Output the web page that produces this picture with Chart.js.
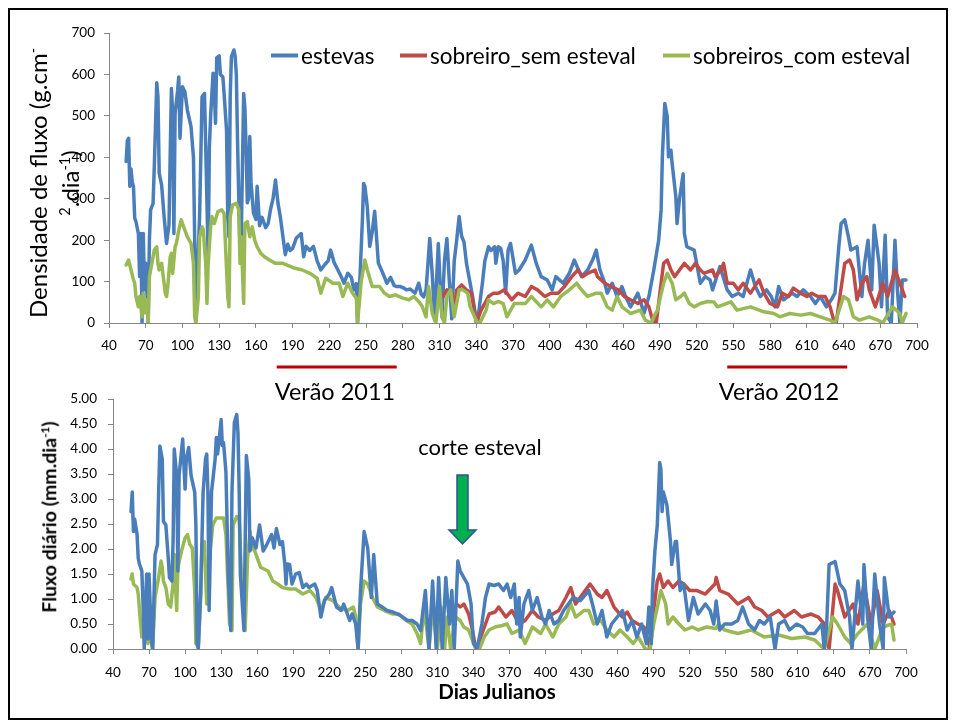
<!DOCTYPE html>
<html lang="pt">
<head>
  <meta charset="UTF-8" />
  <title>Fluxo de seiva - estevas e sobreiros</title>
  <script src="https://cdn.jsdelivr.net/npm/chart.js"></script>
  <style>
    body { margin: 0; width: 955px; height: 723px; background: #fff; position: relative; overflow: hidden;
           font-family: Lato, "Open Sans", sans-serif; color: #000; }
    .frame { position: absolute; left: 8px; top: 8px; width: 936px; height: 708px; border: 2px solid #000; }
    #topWrap { position: absolute; left: 0; top: 0; }
    #botWrap { position: absolute; left: 0; top: 380px; }
    .txt { position: absolute; white-space: nowrap; line-height: 1; }
    .rot { transform: translate(-50%, -50%) rotate(-90deg); text-align: center; }
    .leg { position: absolute; top: 55px; transform: translateY(-50%); display: flex; align-items: center; font-size: 22.5px; white-space: nowrap; }
    .leg i { display: inline-block; width: 27px; height: 4px; margin-right: 3px; }
    sup { font-size: 0.6em; line-height: 0; }
  </style>
</head>
<body>
  <div class="frame"></div>

  <div id="topWrap"><canvas id="densChart" width="955" height="372"></canvas></div>
  <div id="botWrap"><canvas id="fluxChart" width="955" height="320"></canvas></div>

  <!-- legenda -->
  <div class="leg" style="left:271px"><i style="background:#4A7EBB"></i>estevas</div>
  <div class="leg" style="left:400px"><i style="background:#BE4B48"></i>sobreiro_sem esteval</div>
  <div class="leg" style="left:663px"><i style="background:#98B954"></i>sobreiros_com esteval</div>

  <!-- titulos dos eixos -->
  <div class="txt rot" style="left:54px; top:183px; font-size:24px; line-height:32px;">
    Densidade de fluxo (g.cm<sup>-</sup><br><sup>2</sup>.dia<sup>-1</sup>)
  </div>
  <div class="txt rot" style="left:49px; top:517px; font-size:19.5px; font-weight:bold;">Fluxo diário (mm.dia<sup>-1</sup>)</div>
  <div class="txt" style="left:497px; top:691px; transform:translate(-50%,-50%); font-size:20.5px; font-weight:bold;">Dias Julianos</div>

  <!-- anotacoes -->
  <div class="txt" style="left:335px; top:392px; transform:translate(-50%,-50%); font-size:23.5px;">Verão 2011</div>
  <div class="txt" style="left:779px; top:392px; transform:translate(-50%,-50%); font-size:23.5px;">Verão 2012</div>
  <div class="txt" style="left:480px; top:447px; transform:translate(-50%,-50%); font-size:22px;">corte esteval</div>
  <svg style="position:absolute; left:440px; top:470px;" width="44" height="80">
    <polygon points="17,5 28,5 28,60 36,60 22.5,74 9,60 17,60" fill="#00B050" stroke="#2F528F" stroke-width="1.5" />
  </svg>

  <script>
    // ---- dados (dia juliano, valor) ----
    const diasTicks = [40, 70, 100, 130, 160, 190, 220, 250, 280, 310, 340, 370, 400, 430, 460, 490, 520, 550, 580, 610, 640, 670, 700];
    const densidadeTicks = [0, 100, 200, 300, 400, 500, 600, 700];
    const fluxoTicks = [0, 0.5, 1, 1.5, 2, 2.5, 3, 3.5, 4, 4.5, 5];
    const veraoDias = [[177, 275], [545, 643]];

    const estevasDensidade = [
      [54,390],[55,440],[56,446],[57,330],[58,372],[59,340],[60,329],[61,253],[62,245],[64,216],[65,112],[66,216],[67,0],[68,216],[69,80],[70,144],[72,0],[73,200],[74,273],[76,289],[77,377],[79,580],[80,546],[81,361],[83,333],[85,257],[87,192],[89,236],[90,409],[91,566],[92,506],[93,216],[94,506],[96,560],[97,594],[98,446],[100,570],[102,558],[104,514],[107,474],[109,400],[110,200],[111,5],[112,100],[114,257],[116,546],[118,554],[119,425],[121,160],[122,425],[123,498],[125,603],[126,562],[127,482],[128,640],[130,645],[131,600],[133,594],[134,554],[136,466],[137,257],[138,208],[139,546],[140,643],[142,659],[143,645],[144,600],[145,440],[146,300],[147,185],[148,200],[150,554],[151,520],[152,420],[153,290],[154,300],[155,450],[156,340],[158,265],[160,250],[161,330],[163,235],[165,255],[168,230],[170,240],[172,275],[174,300],[176,345],[178,290],[180,255],[182,210],[184,165],[186,190],[188,175],[190,180],[193,205],[197,216],[199,160],[201,185],[204,175],[207,185],[210,150],[213,128],[216,140],[219,150],[221,176],[224,145],[227,128],[230,110],[232,96],[235,120],[238,110],[240,80],[242,95],[243,0],[245,110],[247,250],[248,337],[249,330],[251,280],[253,185],[255,220],[257,270],[258,230],[260,145],[263,125],[267,96],[270,110],[273,90],[275,88],[278,88],[281,84],[283,80],[286,82],[290,72],[293,96],[295,70],[297,63],[299,80],[302,204],[304,120],[306,7],[309,192],[311,60],[312,15],[314,150],[316,204],[318,100],[320,10],[322,150],[324,200],[326,257],[328,210],[330,195],[332,144],[334,112],[337,64],[340,7],[341,0],[343,50],[345,96],[347,150],[350,184],[352,175],[355,184],[356,144],[358,184],[360,180],[362,150],[364,72],[366,176],[368,192],[372,120],[375,128],[380,152],[385,188],[389,144],[393,112],[398,104],[402,80],[405,112],[411,96],[416,120],[420,152],[426,112],[431,128],[435,152],[438,176],[441,128],[445,96],[447,72],[451,96],[455,64],[459,88],[462,64],[466,39],[472,72],[477,24],[481,64],[485,128],[489,200],[491,273],[492,401],[494,530],[496,498],[497,401],[499,417],[500,385],[503,305],[504,240],[506,300],[509,360],[510,216],[512,184],[518,176],[520,144],[523,96],[527,112],[531,104],[533,80],[539,136],[545,80],[549,64],[554,72],[558,64],[564,128],[568,88],[572,64],[577,80],[581,64],[584,39],[587,88],[591,56],[598,72],[602,64],[607,80],[613,64],[617,47],[621,64],[626,39],[630,56],[633,72],[636,180],[638,240],[641,249],[644,208],[646,176],[651,184],[655,64],[657,140],[660,200],[663,80],[665,236],[669,145],[671,39],[674,212],[676,15],[679,0],[682,200],[684,80],[686,0],[688,104],[691,104]
    ];
    const sobreiroSemDensidade = [
      [313,64],[316,80],[320,72],[322,30],[324,80],[328,92],[332,80],[336,72],[339,20],[340,0],[344,31],[350,64],[354,72],[358,72],[363,80],[369,56],[374,72],[380,64],[385,88],[390,80],[396,64],[401,72],[407,72],[412,88],[418,112],[423,128],[427,112],[431,120],[437,128],[439,112],[445,96],[450,88],[456,80],[461,64],[466,56],[472,47],[477,56],[481,39],[484,7],[487,0],[491,96],[493,144],[496,152],[499,128],[502,112],[506,128],[510,144],[515,128],[519,144],[523,128],[526,120],[533,128],[535,112],[540,128],[542,144],[545,96],[550,96],[554,80],[558,96],[564,72],[571,104],[575,72],[580,47],[586,39],[590,72],[595,64],[599,84],[605,72],[610,64],[614,72],[619,64],[625,64],[629,39],[632,7],[634,0],[637,64],[641,144],[645,152],[648,128],[651,56],[655,96],[659,112],[661,80],[666,39],[672,96],[676,64],[682,128],[686,96],[690,64]
    ];
    const sobreiroComDensidade = [
      [54,140],[56,152],[57,140],[58,128],[60,104],[61,96],[62,64],[64,39],[65,64],[67,15],[68,72],[69,24],[71,56],[72,0],[73,112],[75,144],[77,176],[79,184],[80,144],[81,128],[83,144],[85,96],[86,72],[87,64],[88,88],[90,160],[91,168],[92,120],[94,184],[95,192],[97,224],[99,249],[100,240],[103,216],[104,208],[107,192],[109,144],[110,15],[111,0],[113,64],[114,208],[116,232],[117,225],[119,144],[120,47],[121,144],[123,232],[124,257],[126,240],[129,269],[132,273],[134,265],[137,64],[138,39],[139,257],[141,285],[144,289],[146,273],[147,144],[148,208],[150,47],[151,240],[153,245],[155,208],[157,232],[159,200],[161,184],[164,168],[167,160],[171,152],[176,144],[182,144],[187,138],[192,132],[198,128],[204,120],[210,108],[213,72],[217,108],[223,96],[228,96],[231,64],[235,96],[239,72],[242,60],[243,0],[246,100],[249,152],[251,128],[255,88],[261,88],[265,72],[269,64],[274,68],[280,60],[285,56],[289,64],[293,52],[296,39],[299,15],[301,88],[304,24],[307,0],[310,88],[312,15],[314,0],[316,64],[319,80],[322,15],[326,80],[329,80],[333,72],[335,39],[341,0],[343,0],[348,31],[350,56],[354,47],[358,52],[362,47],[365,15],[371,47],[380,47],[385,64],[393,39],[398,56],[403,39],[409,64],[416,80],[422,96],[426,80],[431,64],[438,72],[442,72],[447,39],[451,31],[455,64],[459,39],[466,23],[474,31],[478,7],[483,0],[485,15],[488,31],[493,96],[496,120],[500,96],[503,56],[507,64],[510,72],[514,47],[518,39],[523,47],[529,52],[534,51],[537,39],[548,51],[553,31],[564,39],[575,27],[583,23],[588,15],[596,23],[605,19],[613,23],[621,15],[629,7],[633,0],[640,64],[644,56],[648,15],[653,7],[661,15],[668,7],[672,0],[680,39],[686,23],[688,0],[691,23]
    ];

    const estevasFluxo = [
      [55,2.75],[56,3.14],[57,2.35],[58,2.6],[60,2.3],[61,1.82],[62,1.7],[64,1.56],[65,0.9],[66,0],[68,1.5],[69,0.2],[70,1.5],[72,0.18],[73,0],[75,1.89],[77,2.09],[78,3.14],[79,4.06],[81,3.8],[82,2.55],[84,2.48],[86,1.82],[87,1.43],[89,1.36],[90,2.15],[91,4.0],[93,3.47],[94,1.56],[95,3.47],[98,4.2],[100,3.2],[101,3.8],[103,4.03],[105,3.47],[108,3.14],[109,2.48],[110,0.11],[111,0],[113,1.17],[115,3.14],[117,3.8],[118,3.9],[119,3.14],[120,0.77],[122,3.14],[125,3.8],[126,4.23],[127,3.9],[128,4.1],[130,4.59],[131,4.07],[132,4.13],[134,3.54],[136,1.43],[138,0.37],[139,3.14],[141,4.53],[143,4.69],[144,4.33],[145,3.2],[146,1.5],[149,0.37],[151,3.87],[153,3.4],[154,1.96],[156,2.22],[159,2.02],[162,2.48],[165,1.96],[168,2.09],[172,2.29],[174,2.02],[176,2.41],[179,2.09],[181,2.15],[183,1.7],[184,1.3],[185,1.7],[187,1.69],[189,1.3],[192,1.5],[195,1.53],[198,1.23],[201,1.3],[203,1.23],[208,1.3],[210,1.17],[213,0.64],[216,0.97],[220,1.1],[222,1.23],[226,0.84],[230,0.77],[232,0.9],[237,0.57],[239,0.7],[242,0.5],[244,0],[246,1.17],[249,2.35],[252,2.02],[255,1.03],[257,1.89],[260,0.9],[264,0.84],[268,0.77],[273,0.74],[277,0.7],[281,0.64],[285,0.57],[289,0.57],[293,0.5],[296,0.37],[300,1.17],[303,0],[306,1.36],[309,0],[311,1.43],[314,0],[317,1.43],[320,0.5],[322,1.17],[324,0],[327,1.76],[329,1.56],[332,1.43],[335,1.3],[338,0.9],[340,0.11],[343,0],[347,0.5],[350,1.03],[353,1.3],[357,1.27],[361,1.3],[365,1.17],[368,1.3],[371,1.03],[374,1.3],[376,0.5],[378,1.03],[379,0.24],[382,0.9],[386,1.17],[389,0.77],[393,1.03],[397,0.64],[400,0.5],[403,0.77],[407,0.5],[411,0.57],[415,0.77],[419,0.9],[423,1.03],[429,0.97],[436,1.17],[439,0.9],[443,0.5],[447,0.77],[451,0.24],[455,0.5],[464,0.77],[468,0.38],[472,0.57],[476,0.24],[480,0.5],[484,0.11],[486,0.84],[488,0.11],[489,1.17],[491,1.96],[493,2.48],[495,3.73],[496,3.6],[497,2.75],[498,3.14],[501,2.88],[504,2.15],[505,1.69],[508,2.15],[509,2.15],[512,1.17],[515,1.3],[519,0.57],[523,1.03],[527,0.7],[533,0.9],[537,0.77],[540,0.5],[542,0.96],[545,0.38],[549,0.5],[555,0.5],[560,0.57],[564,0.84],[569,0.5],[574,0.38],[578,0.57],[582,0.5],[587,0.64],[589,0.31],[591,0],[594,0.5],[599,0.57],[603,0.38],[609,0.5],[614,0.44],[618,0.31],[624,0.31],[630,0.5],[632,0],[634,0.5],[636,1.69],[641,1.75],[645,1.3],[649,1.17],[653,0.64],[655,0],[660,1.36],[664,0.5],[665,1.69],[668,0.64],[671,0],[674,1.5],[678,0.5],[681,0],[682,1.43],[686,0.64],[690,0.74]
    ];
    const sobreiroSemFluxo = [
      [326,0.9],[329,0.84],[332,0.9],[336,0.7],[339,0.4],[342,0],[344,0.1],[350,0.5],[353,0.7],[358,0.74],[361,0.84],[367,0.64],[372,0.77],[378,0.5],[383,0.57],[389,0.77],[394,0.64],[400,0.57],[406,0.7],[411,0.77],[417,1.03],[421,1.23],[425,0.9],[433,1.17],[437,1.3],[443,1.1],[447,1.03],[451,1.17],[457,0.84],[464,0.64],[468,0.74],[472,0.57],[477,0.5],[482,0.44],[486,0.11],[487,0],[490,0.77],[493,1.36],[495,1.5],[498,1.23],[502,1.36],[506,1.23],[511,1.36],[515,1.3],[520,1.17],[526,1.17],[533,1.1],[541,1.3],[542,1.43],[545,1.17],[552,1.1],[560,0.9],[569,1.03],[574,0.84],[580,0.77],[585,0.64],[594,0.77],[599,0.64],[607,0.77],[613,0.64],[621,0.7],[627,0.64],[632,0.5],[636,0],[641,1.3],[643,1.17],[649,0.64],[656,0.9],[660,0.5],[665,1.3],[671,0.5],[676,1.17],[681,0.5],[686,0.77],[690,0.5]
    ];
    const sobreiroComFluxo = [
      [55,1.4],[56,1.5],[57,1.3],[60,1.23],[61,1.1],[63,0.5],[64,0.24],[67,0.5],[69,0.11],[71,0.24],[73,0],[75,1.03],[78,1.43],[80,1.76],[81,1.63],[82,1.36],[84,1.23],[86,0.9],[88,0.84],[90,1.3],[91,1.89],[93,0.77],[94,1.63],[97,1.96],[100,2.22],[102,2.29],[104,2.09],[106,2.02],[108,1.17],[109,0.11],[111,0.05],[113,1.03],[114,2.09],[116,2.15],[118,0.9],[120,1.82],[122,2.22],[123,2.48],[126,2.62],[129,2.62],[132,2.62],[134,2.29],[137,0.5],[139,0.37],[140,2.48],[143,2.65],[145,2.62],[147,1.43],[150,0.37],[152,1.82],[154,2.35],[156,2.02],[158,1.96],[163,1.63],[169,1.56],[173,1.36],[177,1.3],[181,1.23],[187,1.2],[192,1.2],[198,1.1],[204,1.17],[209,1.03],[213,0.77],[217,1.03],[223,0.97],[228,0.84],[235,0.77],[240,0.84],[242,0.64],[244,0],[246,0.9],[249,1.36],[252,1.3],[256,1.03],[260,0.84],[266,0.77],[273,0.7],[278,0.7],[284,0.57],[289,0.5],[293,0.31],[296,0.11],[299,0.84],[303,0],[306,0.84],[310,0],[313,0.84],[316,0],[318,0.64],[321,0],[325,0.64],[329,0.57],[332,0.44],[336,0.38],[342,0],[345,0],[349,0.24],[353,0.38],[358,0.44],[364,0.47],[368,0.5],[372,0.31],[378,0.38],[383,0.11],[389,0.44],[396,0.31],[400,0.5],[406,0.24],[411,0.5],[417,0.64],[421,0.9],[425,0.64],[432,0.77],[436,0.77],[440,0.5],[446,0.57],[451,0.38],[457,0.24],[462,0.38],[468,0.24],[473,0.11],[477,0.24],[483,0],[487,0],[490,0.5],[496,1.17],[500,0.9],[502,0.5],[506,0.64],[511,0.5],[516,0.38],[522,0.44],[527,0.38],[534,0.44],[542,0.41],[544,0.5],[549,0.38],[560,0.31],[571,0.38],[582,0.24],[594,0.28],[605,0.21],[616,0.24],[624,0.18],[632,0],[639,0.64],[643,0.5],[649,0.24],[654,0.11],[660,0.31],[668,0.5],[674,0],[681,0.44],[688,0.5],[690,0.18]
    ];

    const AZUL = '#4A7EBB', VERMELHO = '#BE4B48', VERDE = '#98B954';
    const tickFont = { family: 'Lato, "Open Sans", sans-serif', size: 13.5 };
    const axisGrey = '#868686';

    const toXY = pts => pts.map(p => ({ x: p[0], y: p[1] }));

    function serie(label, pts, color, order) {
      return { label, data: toXY(pts), borderColor: color, backgroundColor: color, order,
               borderWidth: 3.5, pointRadius: 0, tension: 0, borderJoinStyle: 'round', borderCapStyle: 'round' };
    }

    function opcoes(cfg) {
      return {
        responsive: false,
        animation: false,
        layout: { padding: cfg.padding },
        plugins: { legend: { display: false }, tooltip: { enabled: false } },
        scales: {
          x: {
            type: 'linear', min: 40, max: 700,
            afterBuildTicks: ax => { ax.ticks = diasTicks.map(v => ({ value: v })); },
            afterFit: sc => { sc.height = cfg.xHeight; },
            grid: { drawOnChartArea: false, drawTicks: true, tickLength: 5, color: axisGrey },
            border: { color: axisGrey },
            ticks: { font: tickFont, color: '#000', padding: cfg.xPad, maxRotation: 0, autoSkip: false }
          },
          y: {
            min: cfg.yMin, max: cfg.yMax,
            afterBuildTicks: ax => { ax.ticks = cfg.yTicks.map(v => ({ value: v })); },
            afterFit: sc => { sc.width = cfg.yWidth; },
            grid: { drawOnChartArea: false, drawTicks: true, tickLength: 5, color: axisGrey },
            border: { color: axisGrey },
            ticks: { font: tickFont, color: '#000', padding: cfg.yPad, callback: cfg.fmt }
          }
        }
      };
    }

    // barras vermelhas dos veroes, desenhadas por baixo do eixo x do grafico de cima
    const veraoPlugin = {
      id: 'verao',
      afterDraw(chart) {
        const ctx = chart.ctx, xs = chart.scales.x;
        ctx.save();
        ctx.strokeStyle = '#C00000';
        ctx.lineWidth = 3;
        veraoDias.forEach(([a, b]) => {
          ctx.beginPath();
          ctx.moveTo(xs.getPixelForValue(a), 367);
          ctx.lineTo(xs.getPixelForValue(b), 367);
          ctx.stroke();
        });
        ctx.restore();
      }
    };

    new Chart(document.getElementById('densChart'), {
      type: 'line',
      data: { datasets: [
        serie('estevas', estevasDensidade, AZUL, 2),
        serie('sobreiro_sem esteval', sobreiroSemDensidade, VERMELHO, 1),
        serie('sobreiros_com esteval', sobreiroComDensidade, VERDE, 0)
      ] },
      options: opcoes({ padding: { top: 33, right: 38, bottom: 0, left: 0 }, xHeight: 49, yWidth: 109,
                        xPad: 10, yPad: 9, yMin: 0, yMax: 700, yTicks: densidadeTicks, fmt: v => v }),
      plugins: [veraoPlugin]
    });

    new Chart(document.getElementById('fluxChart'), {
      type: 'line',
      data: { datasets: [
        serie('estevas', estevasFluxo, AZUL, 0),
        serie('sobreiro_sem esteval', sobreiroSemFluxo, VERMELHO, 2),
        serie('sobreiros_com esteval', sobreiroComFluxo, VERDE, 1)
      ] },
      options: opcoes({ padding: { top: 16, right: 49, bottom: 0, left: 0 }, xHeight: 51, yWidth: 113,
                        xPad: 11, yPad: 11, yMin: 0, yMax: 5, yTicks: fluxoTicks, fmt: v => v.toFixed(2) })
    });
  </script>
</body>
</html>
